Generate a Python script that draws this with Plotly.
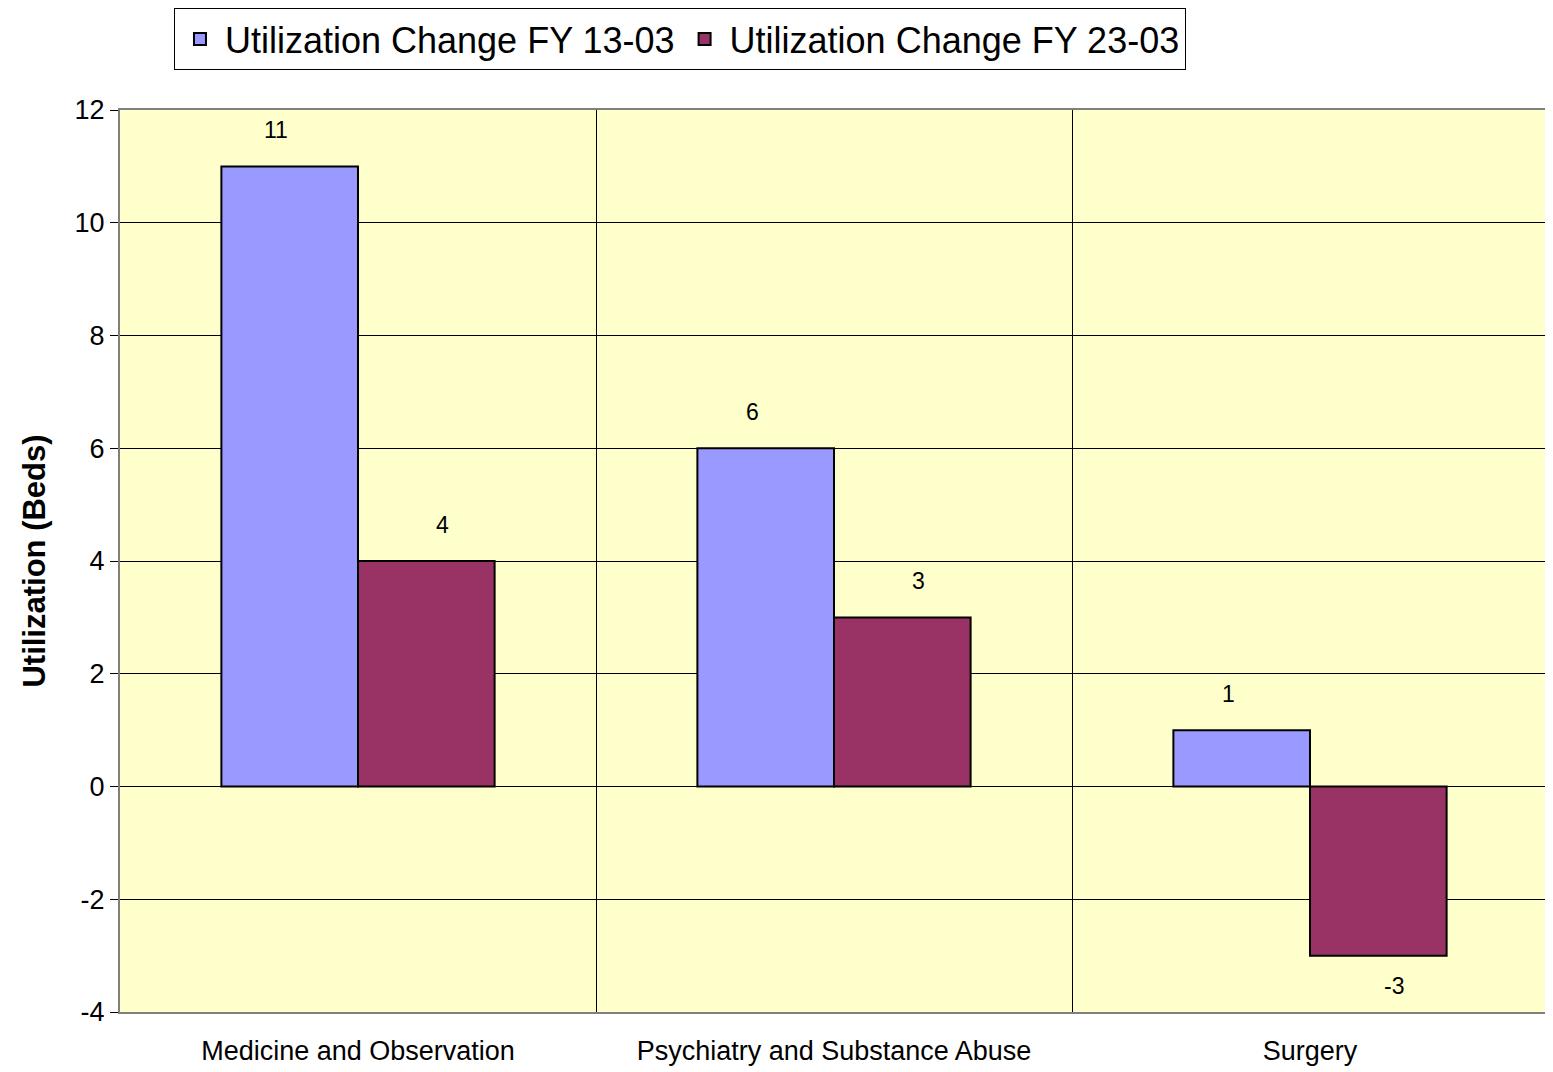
import plotly.graph_objects as go

categories = ["Medicine and Observation", "Psychiatry and Substance Abuse", "Surgery"]
series_names = ["Utilization Change FY 13-03", "Utilization Change FY 23-03"]
values_13 = [11, 6, 1]
values_23 = [4, 3, -3]
y_ticks = [-4, -2, 0, 2, 4, 6, 8, 10, 12]

colors = ["#9999FF", "#993366"]
font = "Liberation Sans, Arial, sans-serif"

fig = go.Figure()
for name, vals, col in zip(series_names, [values_13, values_23], colors):
    fig.add_trace(go.Bar(
        x=categories, y=vals, name=name,
        marker=dict(color=col, line=dict(color="black", width=2)),
    ))

# data labels, placed from the data values
label_xshift = [-82, 84]
for vals, xs in zip([values_13, values_23], label_xshift):
    for cat, v in zip(categories, vals):
        fig.add_annotation(
            x=cat, y=v, xref="x", yref="y", text=str(v), showarrow=False,
            xshift=xs, yshift=36 if v >= 0 else -30,
            font=dict(family=font, size=23, color="black"),
        )

fig.update_layout(
    width=1545, height=1064,
    barmode="group", bargap=0.426, bargroupgap=0,
    paper_bgcolor="white", plot_bgcolor="#FFFFCC",
    margin=dict(l=112, r=5, t=102, b=60, autoexpand=False),
    font=dict(family=font, color="black"),
    legend=dict(
        orientation="h", x=0.0378, y=1.113, xanchor="left", yanchor="top",
        font=dict(family=font, size=36, color="black"),
        bordercolor="black", borderwidth=1, bgcolor="white",
        tracegroupgap=0, itemwidth=40,
    ),
    showlegend=True,
)
fig.update_xaxes(
    tickson="boundaries", showgrid=True, gridcolor="black", gridwidth=1,
    ticks="", tickfont=dict(family=font, size=27, color="black"),
    ticklabelstandoff=14,
    showline=True, linecolor="#808080", linewidth=2, mirror=True,
)
fig.update_yaxes(
    range=[-4, 12], tickvals=y_ticks, ticktext=[str(t) for t in y_ticks],
    showgrid=True, gridcolor="black", gridwidth=1,
    zeroline=True, zerolinecolor="black", zerolinewidth=1,
    ticks="outside", ticklen=8, tickcolor="black",
    tickfont=dict(family=font, size=27, color="black"),
    showline=True, linecolor="#808080", linewidth=2, mirror=True,
    title=dict(text="<b>Utilization (Beds)</b>", font=dict(family=font, size=31, color="black"), standoff=20),
)

fig.write_html("out.html")
